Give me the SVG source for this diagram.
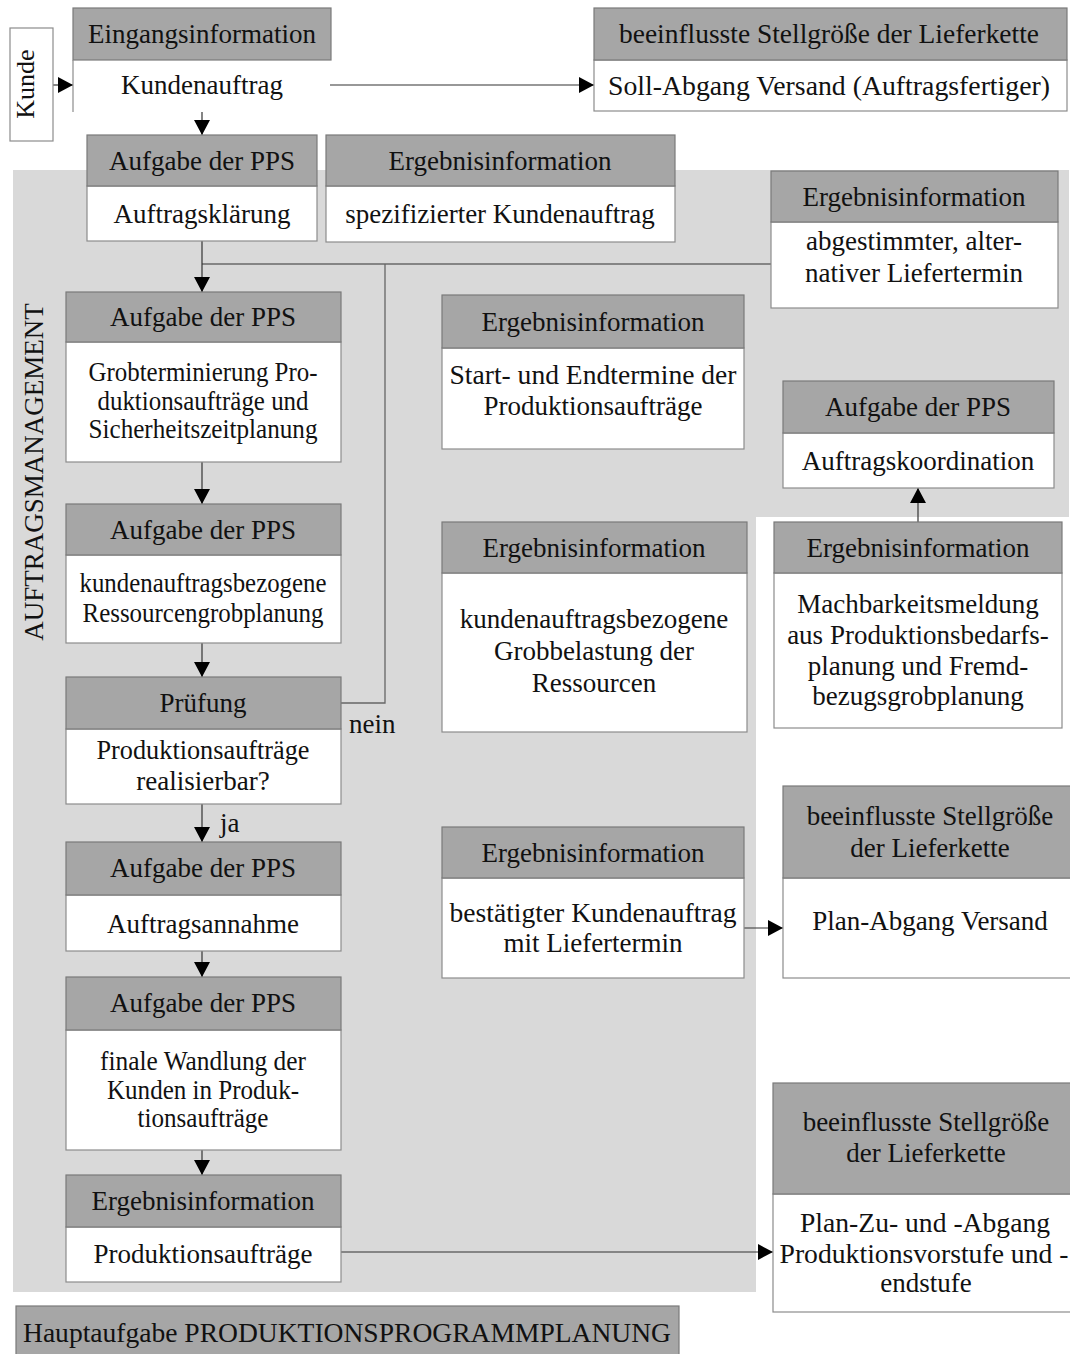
<svg xmlns="http://www.w3.org/2000/svg" width="1070" height="1354" viewBox="0 0 1070 1354">
  <defs>
    <style>
      .hd { fill: #a6a6a6; stroke: #7a7a7a; stroke-width: 1.2; }
      .bd { fill: #ffffff; stroke: #8c8c8c; stroke-width: 1.2; }
      .edge { fill: none; stroke: #8c8c8c; stroke-width: 1.2; }
      .t { font-family: "Liberation Serif", "Times New Roman", serif; font-size: 27px; fill: #111; text-anchor: middle; }
      .ts { font-family: "Liberation Serif", "Times New Roman", serif; font-size: 27px; fill: #111; }
      .cn { fill: none; stroke: #333; stroke-width: 1.2; }
      .loop { fill: none; stroke: #666; stroke-width: 1.3; }
    </style>
    <marker id="arrow" markerUnits="userSpaceOnUse" markerWidth="15" markerHeight="16" viewBox="0 0 15 16" refX="15" refY="8" orient="auto">
      <path d="M0,0 L15,8 L0,16 z" fill="#000"/>
    </marker>
  </defs>

  <rect width="1070" height="1354" fill="#ffffff"/>

  <!-- shaded area of the order management phase -->
  <polygon id="phase-area" points="13,170 1069,170 1069,517 756,517 756,1292 13,1292" fill="#d9d9d9"/>
  <text class="t" transform="translate(43,472) rotate(-90)" fill="#222">AUFTRAGSMANAGEMENT</text>

  <!-- connectors -->
  <g id="connectors">
    <line class="cn" x1="53" y1="85" x2="73" y2="85" marker-end="url(#arrow)"/>
    <line class="cn" x1="330" y1="85" x2="594" y2="85" marker-end="url(#arrow)"/>
    <line class="cn" x1="202" y1="112" x2="202" y2="135" marker-end="url(#arrow)"/>
    <line class="cn" x1="202" y1="241" x2="202" y2="292" marker-end="url(#arrow)"/>
    <line class="cn" x1="771" y1="264" x2="202" y2="264"/>
    <polyline class="loop" points="341,703 385,703 385,264"/>
    <line class="cn" x1="202" y1="462" x2="202" y2="504" marker-end="url(#arrow)"/>
    <line class="cn" x1="202" y1="643" x2="202" y2="677" marker-end="url(#arrow)"/>
    <line class="cn" x1="202" y1="804" x2="202" y2="842" marker-end="url(#arrow)"/>
    <line class="cn" x1="202" y1="951" x2="202" y2="977" marker-end="url(#arrow)"/>
    <line class="cn" x1="202" y1="1150" x2="202" y2="1175" marker-end="url(#arrow)"/>
    <line class="cn" x1="341" y1="1252" x2="773" y2="1252" marker-end="url(#arrow)"/>
    <line class="cn" x1="918" y1="522" x2="918" y2="488" marker-end="url(#arrow)"/>
    <line class="cn" x1="744" y1="928" x2="783" y2="928" marker-end="url(#arrow)"/>
    <text class="ts" x="349" y="733">nein</text>
    <text class="ts" x="220" y="832">ja</text>
  </g>

  <!-- customer -->
  <g id="kunde">
    <rect class="bd" x="10" y="28" width="43" height="113"/>
    <text class="t" style="font-size:26px" transform="translate(34,84) rotate(-90)">Kunde</text>
  </g>

  <g id="eingangsinformation">
    <rect class="hd" x="73" y="8" width="258" height="52"/>
    <line class="edge" x1="73" y1="60" x2="73" y2="112"/>
    <text class="t" x="202" y="43">Eingangsinformation</text>
    <text class="t" x="202" y="94">Kundenauftrag</text>
  </g>

  <g id="stellgroesse-soll">
    <rect class="bd" x="594" y="60" width="473" height="51"/>
    <rect class="hd" x="594" y="8" width="473" height="52"/>
    <text class="t" x="829" y="43" textLength="420" lengthAdjust="spacingAndGlyphs">beeinflusste Stellgröße der Lieferkette</text>
    <text class="t" x="829" y="95" textLength="442" lengthAdjust="spacingAndGlyphs">Soll-Abgang Versand (Auftragsfertiger)</text>
  </g>

  <g id="auftragsklaerung">
    <rect class="bd" x="87" y="186" width="230" height="55"/>
    <rect class="hd" x="87" y="135" width="230" height="51"/>
    <text class="t" x="202" y="170">Aufgabe der PPS</text>
    <text class="t" x="202" y="223">Auftragsklärung</text>
  </g>

  <g id="spezifizierter-kundenauftrag">
    <rect class="bd" x="326" y="186" width="349" height="56"/>
    <rect class="hd" x="326" y="135" width="349" height="51"/>
    <text class="t" x="500" y="170">Ergebnisinformation</text>
    <text class="t" x="500" y="223">spezifizierter Kundenauftrag</text>
  </g>

  <g id="alternativer-liefertermin">
    <rect class="bd" x="771" y="222" width="287" height="86"/>
    <rect class="hd" x="771" y="171" width="287" height="51"/>
    <text class="t" x="914" y="206">Ergebnisinformation</text>
    <text class="t" x="914" y="250">abgestimmter, alter-</text>
    <text class="t" x="914" y="282">nativer Liefertermin</text>
  </g>

  <g id="grobterminierung">
    <rect class="bd" x="66" y="342" width="275" height="120"/>
    <rect class="hd" x="66" y="292" width="275" height="50"/>
    <text class="t" x="203" y="326">Aufgabe der PPS</text>
    <text class="t" x="203" y="381" textLength="229" lengthAdjust="spacingAndGlyphs">Grobterminierung Pro-</text>
    <text class="t" x="203" y="410" textLength="211" lengthAdjust="spacingAndGlyphs">duktionsaufträge und</text>
    <text class="t" x="203" y="438" textLength="229" lengthAdjust="spacingAndGlyphs">Sicherheitszeitplanung</text>
  </g>

  <g id="ressourcengrobplanung">
    <rect class="bd" x="66" y="555" width="275" height="88"/>
    <rect class="hd" x="66" y="504" width="275" height="51"/>
    <text class="t" x="203" y="539">Aufgabe der PPS</text>
    <text class="t" x="203" y="592" textLength="247" lengthAdjust="spacingAndGlyphs">kundenauftragsbezogene</text>
    <text class="t" x="203" y="622" textLength="241" lengthAdjust="spacingAndGlyphs">Ressourcengrobplanung</text>
  </g>

  <g id="pruefung">
    <rect class="bd" x="66" y="729" width="275" height="75"/>
    <rect class="hd" x="66" y="677" width="275" height="52"/>
    <text class="t" x="203" y="712">Prüfung</text>
    <text class="t" x="203" y="759" textLength="213" lengthAdjust="spacingAndGlyphs">Produktionsaufträge</text>
    <text class="t" x="203" y="790">realisierbar?</text>
  </g>

  <g id="auftragsannahme">
    <rect class="bd" x="66" y="895" width="275" height="56"/>
    <rect class="hd" x="66" y="842" width="275" height="53"/>
    <text class="t" x="203" y="877">Aufgabe der PPS</text>
    <text class="t" x="203" y="933">Auftragsannahme</text>
  </g>

  <g id="finale-wandlung">
    <rect class="bd" x="66" y="1030" width="275" height="120"/>
    <rect class="hd" x="66" y="977" width="275" height="53"/>
    <text class="t" x="203" y="1012">Aufgabe der PPS</text>
    <text class="t" x="203" y="1070" textLength="206" lengthAdjust="spacingAndGlyphs">finale Wandlung der</text>
    <text class="t" x="203" y="1099" textLength="192" lengthAdjust="spacingAndGlyphs">Kunden in Produk-</text>
    <text class="t" x="203" y="1127" textLength="131" lengthAdjust="spacingAndGlyphs">tionsaufträge</text>
  </g>

  <g id="produktionsauftraege">
    <rect class="bd" x="66" y="1227" width="275" height="55"/>
    <rect class="hd" x="66" y="1175" width="275" height="52"/>
    <text class="t" x="203" y="1210">Ergebnisinformation</text>
    <text class="t" x="203" y="1263">Produktionsaufträge</text>
  </g>

  <g id="start-endtermine">
    <rect class="bd" x="442" y="348" width="302" height="101"/>
    <rect class="hd" x="442" y="295" width="302" height="53"/>
    <text class="t" x="593" y="331">Ergebnisinformation</text>
    <text class="t" x="593" y="384" textLength="287" lengthAdjust="spacingAndGlyphs">Start- und Endtermine der</text>
    <text class="t" x="593" y="415">Produktionsaufträge</text>
  </g>

  <g id="auftragskoordination">
    <rect class="bd" x="783" y="433" width="271" height="55"/>
    <rect class="hd" x="783" y="381" width="271" height="52"/>
    <text class="t" x="918" y="416">Aufgabe der PPS</text>
    <text class="t" x="918" y="470">Auftragskoordination</text>
  </g>

  <g id="grobbelastung">
    <rect class="bd" x="442" y="573" width="305" height="159"/>
    <rect class="hd" x="442" y="522" width="305" height="51"/>
    <text class="t" x="594" y="557">Ergebnisinformation</text>
    <text class="t" x="594" y="628">kundenauftragsbezogene</text>
    <text class="t" x="594" y="660">Grobbelastung der</text>
    <text class="t" x="594" y="692">Ressourcen</text>
  </g>

  <g id="machbarkeitsmeldung">
    <rect class="bd" x="774" y="573" width="288" height="155"/>
    <rect class="hd" x="774" y="522" width="288" height="51"/>
    <text class="t" x="918" y="557">Ergebnisinformation</text>
    <text class="t" x="918" y="613">Machbarkeitsmeldung</text>
    <text class="t" x="918" y="644">aus Produktionsbedarfs-</text>
    <text class="t" x="918" y="675">planung und Fremd-</text>
    <text class="t" x="918" y="705">bezugsgrobplanung</text>
  </g>

  <g id="bestaetigter-kundenauftrag">
    <rect class="bd" x="442" y="878" width="302" height="100"/>
    <rect class="hd" x="442" y="827" width="302" height="51"/>
    <text class="t" x="593" y="862">Ergebnisinformation</text>
    <text class="t" x="593" y="922" textLength="287" lengthAdjust="spacingAndGlyphs">bestätigter Kundenauftrag</text>
    <text class="t" x="593" y="952">mit Liefertermin</text>
  </g>

  <g id="stellgroesse-plan-abgang">
    <rect class="bd" x="783" y="878" width="295" height="100"/>
    <rect class="hd" x="783" y="786" width="295" height="92"/>
    <text class="t" x="930" y="825">beeinflusste Stellgröße</text>
    <text class="t" x="930" y="857">der Lieferkette</text>
    <text class="t" x="930" y="930">Plan-Abgang Versand</text>
  </g>

  <g id="stellgroesse-plan-zu-abgang">
    <rect class="bd" x="773" y="1194" width="305" height="118"/>
    <rect class="hd" x="773" y="1083" width="305" height="111"/>
    <text class="t" x="926" y="1131">beeinflusste Stellgröße</text>
    <text class="t" x="926" y="1162">der Lieferkette</text>
    <text class="t" x="925" y="1232" textLength="250" lengthAdjust="spacingAndGlyphs">Plan-Zu- und -Abgang</text>
    <text class="t" x="924" y="1263" textLength="289" lengthAdjust="spacingAndGlyphs">Produktionsvorstufe und -</text>
    <text class="t" x="926" y="1292">endstufe</text>
  </g>

  <g id="hauptaufgabe">
    <rect class="hd" x="16" y="1306" width="663" height="50"/>
    <text class="t" x="347" y="1342" textLength="648" lengthAdjust="spacingAndGlyphs">Hauptaufgabe PRODUKTIONSPROGRAMMPLANUNG</text>
  </g>
</svg>
